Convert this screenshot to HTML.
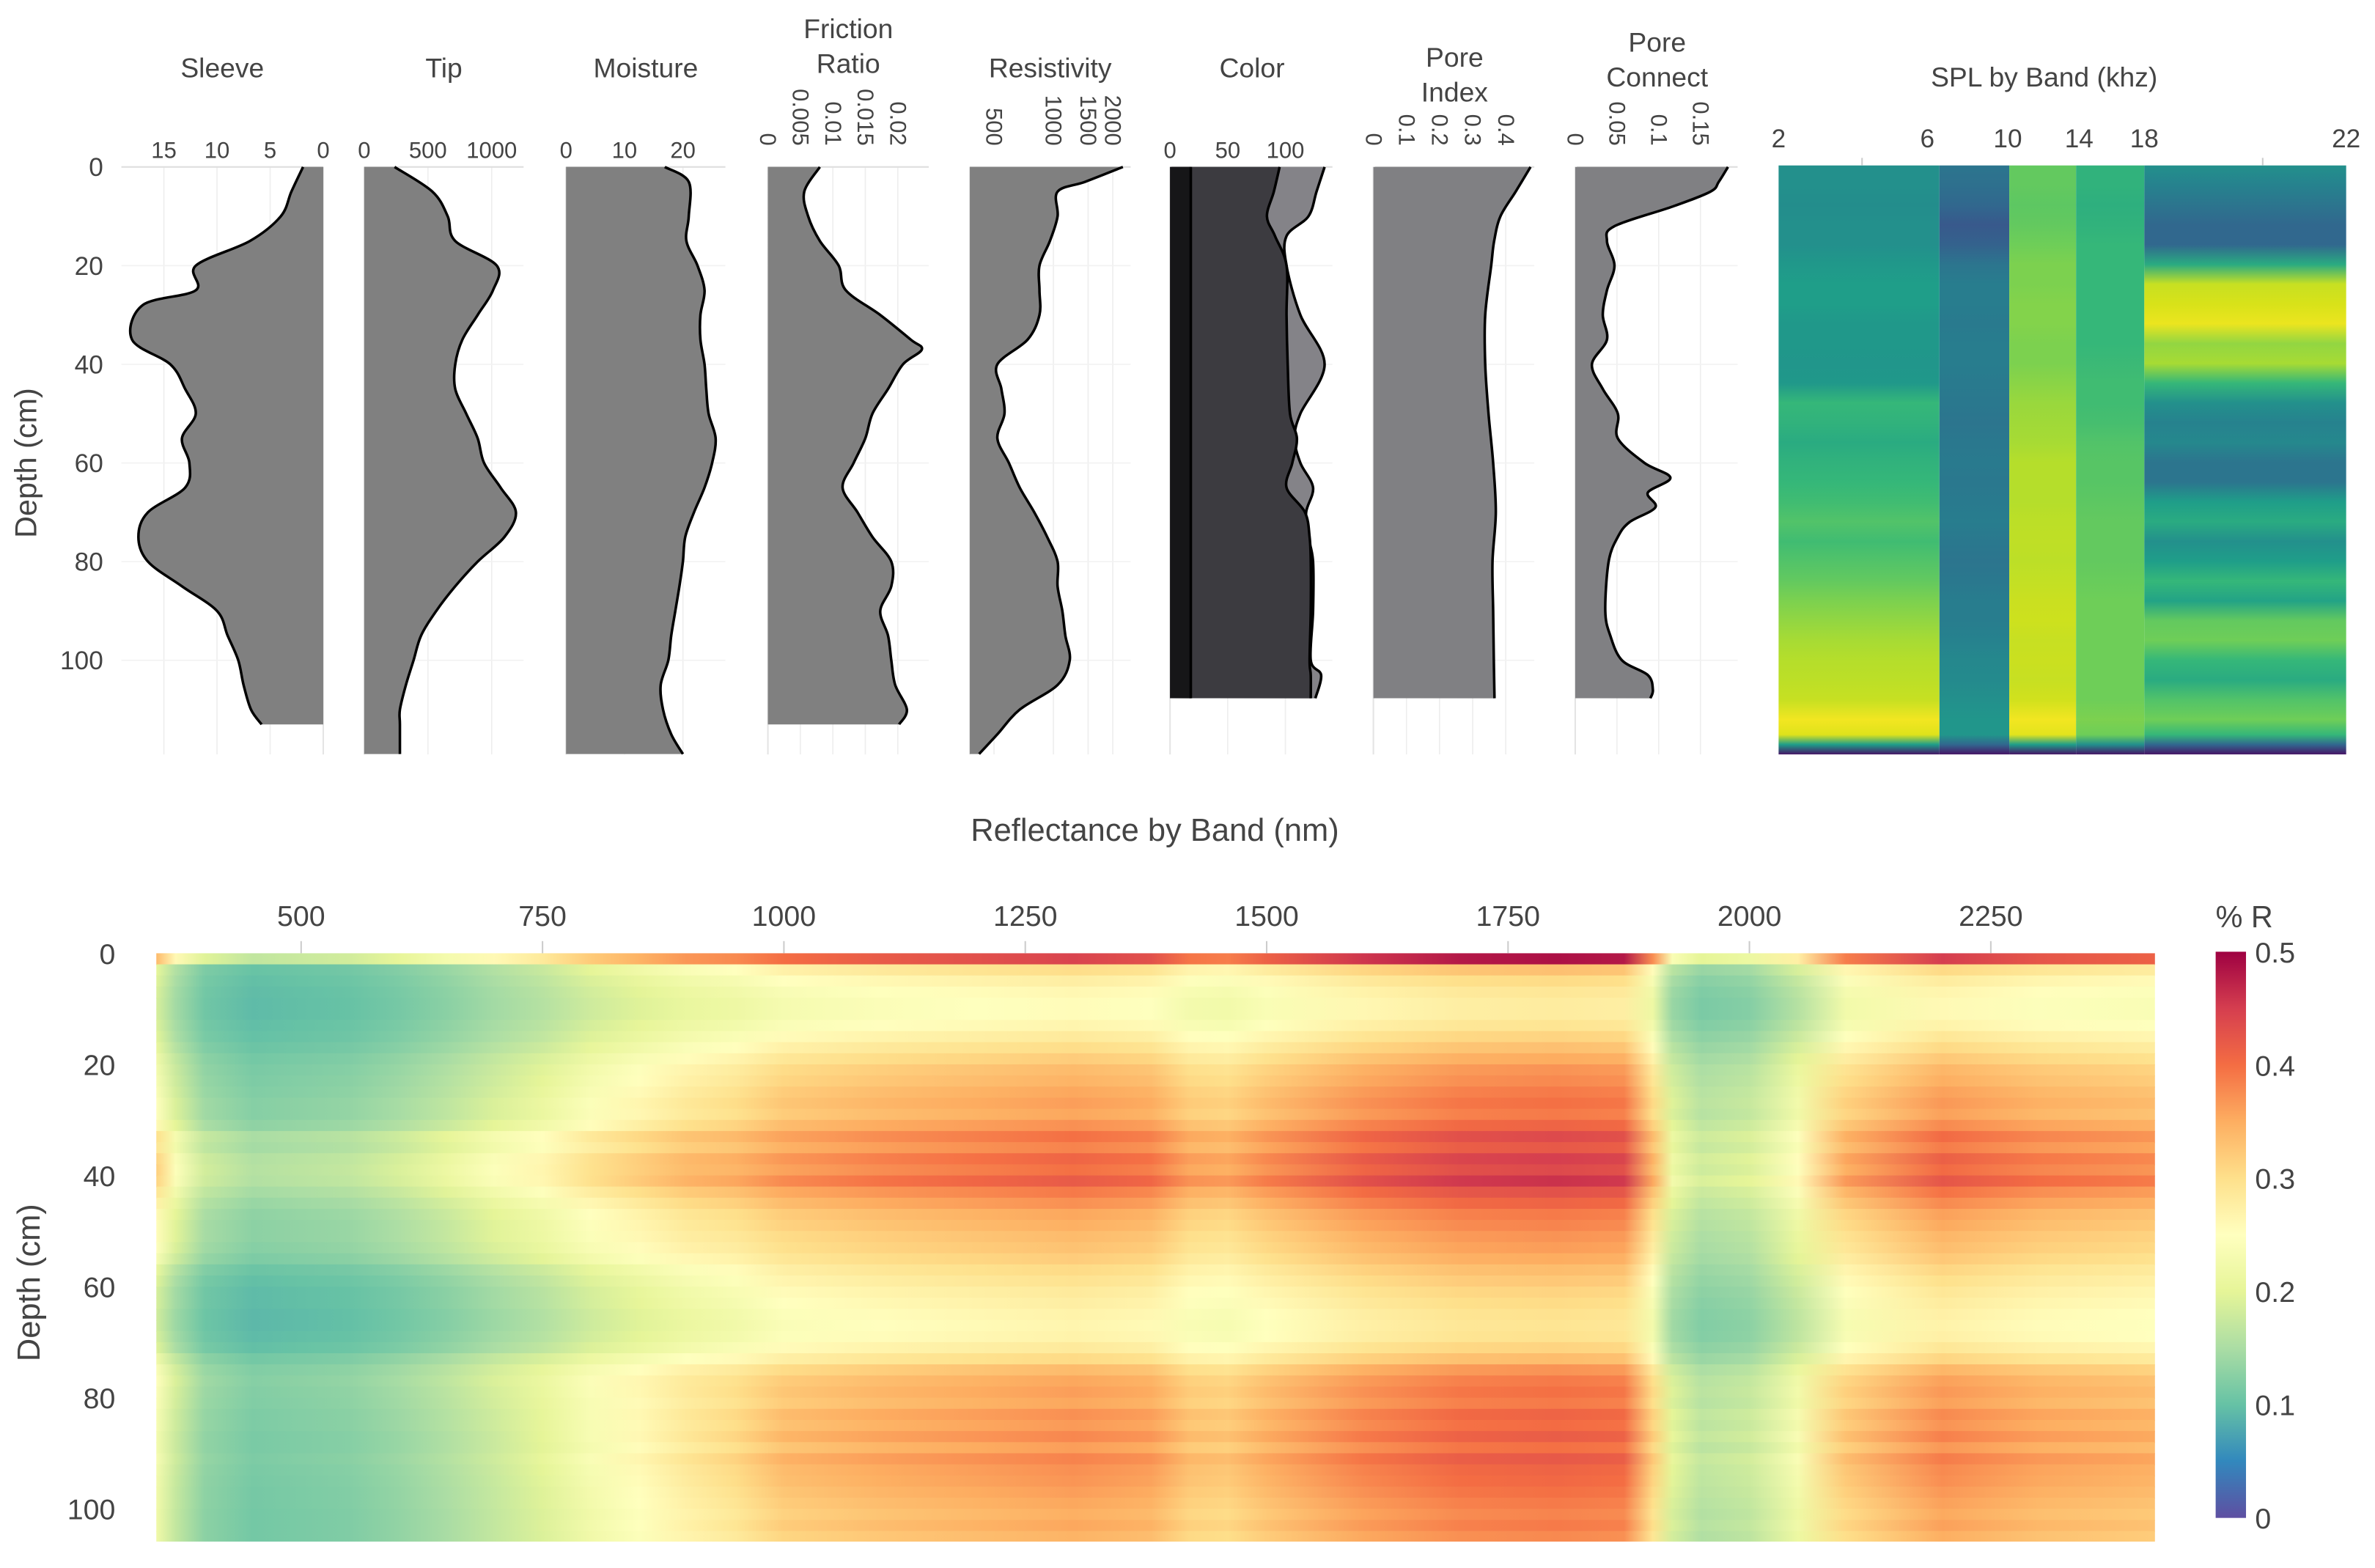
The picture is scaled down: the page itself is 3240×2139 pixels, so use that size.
<!DOCTYPE html>
<html><head><meta charset="utf-8">
<style>
html,body{margin:0;padding:0;background:#fff;}
svg{display:block;}
text{font-family:"Liberation Sans","DejaVu Sans",sans-serif;fill:#444;}
</style></head>
<body>
<svg id="chart" xmlns="http://www.w3.org/2000/svg" width="3240" height="2139" viewBox="0 0 1565 1033" preserveAspectRatio="none">
<defs id="defs"></defs>
<g id="topPanels"></g>
<g id="spl"></g>
<g id="refl"></g>
</svg>
<script>
// ---------- data: core profiles ----------
const sleeveDepths=[0,5,10,15,20,25,28,35,40,45,50,55,60,65,70,75,80,85,90,95,100,105,110,113];
const sleeveValues=[1.9,3,4,6.9,12,12,17,18,14.4,13,12,13.3,12.6,13,16.5,17.4,16.5,13.3,10,9,8,7.5,6.8,5.8];
const tipDepths=[0,5,10,15,20,25,30,35,40,45,50,55,60,65,70,75,80,85,90,95,100,105,110,113,119];
const tipValues=[238,535,655,714,1040,1010,890,770,714,714,800,890,940,1070,1190,1100,890,714,565,446,387,327,280,280,280];
const moistureDepths=[0,3,10,15,20,25,30,35,40,45,50,55,60,65,70,75,80,85,90,95,100,105,110,115,119];
const moistureValues=[16.9,21,21,20.6,22.5,23.7,23,23,23.7,24,24.4,25.6,25,23.7,21.9,20.4,20,19.4,18.7,18,17.5,16.2,16.6,18,20];
const frictionDepths=[0,5,10,15,20,25,30,35,37,40,45,50,55,60,65,70,75,80,85,90,95,100,105,110,113];
const frictionValues=[0.008,0.0056,0.0062,0.008,0.0109,0.012,0.0173,0.022,0.0237,0.0208,0.0185,0.0161,0.015,0.0132,0.0115,0.0138,0.0161,0.019,0.019,0.0173,0.0185,0.019,0.0196,0.0214,0.0202];
const resistDepths=[0,3,5,10,15,20,25,30,35,40,45,50,55,60,65,70,75,80,85,90,95,100,105,110,115,119];
const resistValues=[2250,1450,1050,1050,960,850,850,850,740,520,545,565,520,595,675,800,930,1050,1050,1110,1150,1210,1050,675,520,420];
const colorDepths=[0,5,10,14,20,30,40,50,55,60,65,70,75,80,90,100,103,107.7];
const colorOuter=[134,127,120,101,101,113,134,113,108,113,124,118,120,124,124,122,131,126];
const colorInner=[95,90,84,91,101,101,102,104,110,106,101,117,121,122,122,121,122,122];
const colorBlack=[18,18];
const colorBlackDepths=[0,107.7];
const poreIdxDepths=[0,5,10,15,20,30,40,50,60,70,80,90,100,107.7];
const poreIdxValues=[0.475,0.43,0.384,0.365,0.356,0.338,0.338,0.348,0.362,0.37,0.36,0.362,0.364,0.366];
const poreConDepths=[0,3,5,8,12,15,20,25,30,35,40,45,50,55,60,63,66,69,72,75,80,90,95,100,103,106,107.7];
const poreConValues=[0.183,0.172,0.162,0.117,0.047,0.038,0.047,0.038,0.033,0.038,0.02,0.033,0.051,0.051,0.083,0.114,0.087,0.096,0.065,0.051,0.04,0.036,0.042,0.056,0.087,0.093,0.09];
const depthTicks=[0,20,40,60,80,100];
// ---------- data: SPL ----------
const splBands=["2","6","10","14","18","22"];
const splDepths=[0,4,8,12,16,20,24,28,32,36,40,44,48,52,56,60,64,68,72,76,80,84,88,92,96,100,104,108,112,115,117,119];
const spl1=[0.45,0.45,0.44,0.45,0.45,0.48,0.5,0.5,0.48,0.48,0.47,0.48,0.6,0.58,0.55,0.58,0.6,0.62,0.65,0.62,0.65,0.68,0.72,0.75,0.78,0.8,0.82,0.85,0.97,0.92,0.5,0.05];
const spl2=[0.35,0.33,0.3,0.25,0.28,0.35,0.38,0.38,0.37,0.38,0.38,0.37,0.36,0.35,0.36,0.37,0.36,0.37,0.38,0.36,0.35,0.36,0.38,0.38,0.4,0.42,0.43,0.45,0.47,0.47,0.3,0.05];
const spl3=[0.68,0.68,0.67,0.68,0.7,0.72,0.72,0.73,0.73,0.72,0.72,0.74,0.76,0.77,0.78,0.8,0.8,0.8,0.82,0.83,0.82,0.84,0.86,0.87,0.85,0.86,0.85,0.88,0.97,0.93,0.5,0.05];
const spl4=[0.58,0.58,0.57,0.58,0.6,0.6,0.6,0.6,0.6,0.6,0.61,0.62,0.62,0.63,0.65,0.66,0.66,0.67,0.68,0.68,0.68,0.69,0.7,0.7,0.7,0.7,0.7,0.7,0.72,0.7,0.45,0.05];
const spl5=[0.45,0.4,0.35,0.3,0.3,0.55,0.85,0.9,0.95,0.75,0.78,0.6,0.45,0.4,0.42,0.35,0.35,0.5,0.55,0.45,0.5,0.6,0.52,0.68,0.7,0.6,0.55,0.65,0.7,0.6,0.3,0.05];
// ---------- data: reflectance ----------
const wavelengths=[350,370,400,450,500,550,600,650,700,750,800,850,900,950,1000,1100,1200,1300,1380,1420,1460,1500,1600,1700,1800,1870,1900,1920,1950,2000,2050,2100,2200,2300,2420];
const baseSpectrum=[0.26,0.2,0.15,0.13,0.135,0.14,0.155,0.175,0.2,0.22,0.25,0.27,0.29,0.3,0.32,0.335,0.345,0.355,0.345,0.315,0.31,0.33,0.365,0.385,0.39,0.385,0.3,0.19,0.16,0.17,0.22,0.31,0.36,0.34,0.33];
const visWeight=[1,1,1,1,1,1,1,1,1,0.85,0.7,0.55,0.4,0.2,0,0,0,0,0,0,0,0,0,0,0,0,0,0,0,0,0,0,0,0,0];
const reflDepths=[0,2,4,6,8,10,12,14,16,18,20,22,24,26,28,30,32,34,36,38,40,42,44,46,48,50,52,54,56,58,60,62,64,66,68,70,72,74,76,78,80,82,84,86,88,90,92,94,96,98,100,102,104];
const nirFactor=[1.25,0.85,0.78,0.74,0.72,0.72,0.75,0.8,0.85,0.9,0.95,0.97,1.0,1.02,1.0,1.05,1.12,1.08,1.15,1.12,1.18,1.1,1.05,1.0,0.98,0.95,0.93,0.9,0.86,0.83,0.8,0.78,0.76,0.75,0.76,0.8,0.86,0.95,1.0,1.02,1.0,1.05,1.03,1.07,1.02,1.08,1.05,1.04,1.02,1.0,0.98,1.0,0.97];
const visFactor=[1.3,0.78,0.75,0.73,0.72,0.72,0.74,0.76,0.8,0.85,0.88,0.9,0.92,0.95,0.95,1.0,1.15,1.12,1.2,1.22,1.2,1.12,1.05,1.0,0.98,0.98,0.95,0.9,0.8,0.75,0.72,0.72,0.7,0.7,0.72,0.75,0.85,0.92,0.95,0.93,0.92,0.9,0.9,0.88,0.88,0.9,0.88,0.87,0.86,0.86,0.85,0.85,0.85];
const reflXTicks=[500,750,1000,1250,1500,1750,2000,2250];
const cbarTicks=[0,0.1,0.2,0.3,0.4,0.5];

const NS="http://www.w3.org/2000/svg";
function mk(tag,attrs,parent){const e=document.createElementNS(NS,tag);for(const k in attrs)e.setAttribute(k,attrs[k]);if(parent)parent.appendChild(e);return e;}
const defs=document.getElementById('defs');
const topG=document.getElementById('topPanels');

const yTop=d=>110+d*3.25;

depthTicks.forEach(t=>{
  const tx=mk('text',{x:68,y:yTop(t)+6,'text-anchor':'end','font-size':17},topG);
  tx.textContent=t;
  
  
});
{const t=mk('text',{x:24,y:305,'text-anchor':'middle','font-size':20,transform:'rotate(-90 24 305)'},topG);t.textContent='Depth (cm)';

}

function smoothPath(pts){
  let d='M'+pts[0][0].toFixed(2)+','+pts[0][1].toFixed(2);
  for(let i=0;i<pts.length-1;i++){
    const p0=pts[i-1]||pts[i],p1=pts[i],p2=pts[i+1],p3=pts[i+2]||p2;
    const c1=[p1[0]+(p2[0]-p0[0])/6,p1[1]+(p2[1]-p0[1])/6];
    const c2=[p2[0]-(p3[0]-p1[0])/6,p2[1]-(p3[1]-p1[1])/6];
    d+=' C'+c1[0].toFixed(2)+','+c1[1].toFixed(2)+' '+c2[0].toFixed(2)+','+c2[1].toFixed(2)+' '+p2[0].toFixed(2)+','+p2[1].toFixed(2);
  }
  return d;
}

function panel(cfg){
  const g=mk('g',{},topG);
  
  
  cfg.ticks.forEach(t=>{mk('line',{x1:cfg.sx(t),x2:cfg.sx(t),y1:110,y2:497,stroke:'#eeeeee','stroke-width':0.8},g);});
  depthTicks.forEach(t=>{mk('line',{x1:cfg.x0,x2:cfg.x1,y1:yTop(t),y2:yTop(t),stroke:'#f2f2f2','stroke-width':0.8},g);});
  mk('line',{x1:cfg.x0,x2:cfg.x1,y1:110,y2:110,stroke:'#dddddd','stroke-width':1},g);
  mk('line',{x1:cfg.sx(cfg.base),x2:cfg.sx(cfg.base),y1:110,y2:497,stroke:'#e4e4e4','stroke-width':1},g);
  cfg.ticks.forEach((t,i)=>{
    const lab=cfg.labels[i];
    let tx;
    if(cfg.rot){tx=mk('text',{x:0,y:0,'font-size':15,'text-anchor':'end',transform:'translate('+(cfg.sx(t)-5)+',96) rotate(90)'},g);}
    else tx=mk('text',{x:cfg.sx(t),y:104,'font-size':15,'text-anchor':'middle'},g);
    tx.textContent=lab;
    
    
  });
  cfg.title.forEach((line,i)=>{
    const tx=mk('text',{x:(cfg.x0+cfg.x1)/2,y:cfg.titleY+i*23,'font-size':18,'text-anchor':'middle'},g);
    tx.textContent=line;
    
    
  });
  cfg.series.forEach(s=>{
    const pts=s.d.map((d,i)=>[cfg.sx(s.v[i]),yTop(d)]);
    const bx=cfg.sx(cfg.base);
    const line=smoothPath(pts);
    const last=pts[pts.length-1];
    const rest=line.replace(/^M[^ ]+/,'');
    const area=mk('path',{d:'M'+bx+','+pts[0][1]+' L'+pts[0][0]+','+pts[0][1]+' '+rest+' L'+bx+','+last[1]+' Z',fill:s.fill,stroke:'none'},g);
    
    
    const l=mk('path',{d:line,fill:'none',stroke:'#000','stroke-width':1.7,'stroke-linejoin':'round'},g);
    
    
  });
}
const lin=(x0,v0,k)=>v=>x0+(v-v0)*k;
panel({name:'sleeve',x0:80,x1:213,sx:lin(213,0,-7),base:0,ticks:[15,10,5,0],labels:['15','10','5','0'],title:['Sleeve'],titleY:51,
  series:[{name:'sleeve',d:sleeveDepths,v:sleeveValues,fill:'#808080'}]});
panel({name:'tip',x0:240,x1:345,sx:lin(240,0,0.084),base:0,ticks:[0,500,1000],labels:['0','500','1000'],title:['Tip'],titleY:51,
  series:[{name:'tip',d:tipDepths,v:tipValues,fill:'#808080'}]});
panel({name:'moisture',x0:373,x1:478,sx:lin(373,0,3.85),base:0,ticks:[0,10,20],labels:['0','10','20'],title:['Moisture'],titleY:51,
  series:[{name:'moisture',d:moistureDepths,v:moistureValues,fill:'#808080'}]});
panel({name:'friction-ratio',x0:506,x1:612,sx:lin(506,0,4280),base:0,ticks:[0,0.005,0.01,0.015,0.02],labels:['0','0.005','0.01','0.015','0.02'],rot:true,title:['Friction','Ratio'],titleY:25,
  series:[{name:'friction',d:frictionDepths,v:frictionValues,fill:'#808080'}]});
panel({name:'resistivity',x0:639,x1:745,sx:v=>655+(Math.log10(v)-Math.log10(500))*130,base:377,ticks:[500,1000,1500,2000],labels:['500','1000','1500','2000'],rot:true,title:['Resistivity'],titleY:51,
  series:[{name:'resistivity',d:resistDepths,v:resistValues,fill:'#808080'}]});
panel({name:'color',x0:772,x1:878,sx:lin(771,0,0.76),base:0,ticks:[0,50,100],labels:['0','50','100'],title:['Color'],titleY:51,
  series:[{name:'color-outer',d:colorDepths,v:colorOuter,fill:'#848388'},{name:'color-inner',d:colorDepths,v:colorInner,fill:'#3c3b40'},{name:'color-black',d:colorBlackDepths,v:colorBlack,fill:'#161618'}]});
panel({name:'pore-index',x0:906,x1:1011,sx:lin(905,0,218),base:0,ticks:[0,0.1,0.2,0.3,0.4],labels:['0','0.1','0.2','0.3','0.4'],rot:true,title:['Pore','Index'],titleY:44,
  series:[{name:'pore-index',d:poreIdxDepths,v:poreIdxValues,fill:'#808083'}]});
panel({name:'pore-connect',x0:1039,x1:1145,sx:lin(1038,0,550),base:0,ticks:[0,0.05,0.1,0.15],labels:['0','0.05','0.1','0.15'],rot:true,title:['Pore','Connect'],titleY:34,
  series:[{name:'pore-connect',d:poreConDepths,v:poreConValues,fill:'#808083'}]});

// ---------- colour maps ----------
const viridis=['#440154','#482878','#3e4989','#31688e','#26828e','#1f9e89','#35b779','#6ece58','#b5de2b','#d8e219','#fde725'];
const spectral=['#5e4fa2','#3288bd','#66c2a5','#abdda4','#e6f598','#ffffbf','#fee08b','#fdae61','#f46d43','#d53e4f','#9e0142'];
function hex(c){return [parseInt(c.slice(1,3),16),parseInt(c.slice(3,5),16),parseInt(c.slice(5,7),16)];}
function cmap(stops,t){t=Math.max(0,Math.min(1,t));const n=stops.length-1;const i=Math.min(n-1,Math.floor(t*n));const f=t*n-i;
  const a=hex(stops[i]),b=hex(stops[i+1]);return 'rgb('+a.map((v,k)=>Math.round(v+(b[k]-v)*f)).join(',')+')';}

// ---------- SPL heatmap ----------
const splG=document.getElementById('spl');
const splEdgesPx=[1172,1278,1324,1368,1413,1546];
const splTickPx=[1172,1270,1323,1370,1413,1546];
const splCols=[spl1,spl2,spl3,spl4,spl5];
const ySpl=d=>109+d*(388/119);
splCols.forEach((col,ci)=>{
  const gid='splg'+ci;
  const lg=mk('linearGradient',{id:gid,x1:0,y1:0,x2:0,y2:1},defs);
  col.forEach((v,i)=>{mk('stop',{offset:(splDepths[i]/119).toFixed(4),'stop-color':cmap(viridis,v)},lg);});
  const r=mk('rect',{x:splEdgesPx[ci],y:ySpl(0),width:splEdgesPx[ci+1]-splEdgesPx[ci],height:ySpl(119)-ySpl(0),fill:'url(#'+gid+')'},splG);
  
  
});
splBands.forEach((b,i)=>{
  const t=mk('text',{x:splTickPx[i],y:97,'font-size':17,'text-anchor':'middle'},splG);t.textContent=b;
  
  
});
[1227,1491].forEach(x=>mk('line',{x1:x,x2:x,y1:104,y2:109,stroke:'#ccc'},splG));
{const t=mk('text',{x:1347,y:57,'font-size':18,'text-anchor':'middle'},splG);t.textContent='SPL by Band (khz)';

}

// ---------- Reflectance heatmap ----------
const rG=document.getElementById('refl');
const xR=w=>103+(w-350)*(1317/2070);
const yR=d=>628+d*3.66;
const wMin=wavelengths[0],wMax=wavelengths[wavelengths.length-1];
reflDepths.forEach((d,ri)=>{
  const gid='rg'+ri;
  const lg=mk('linearGradient',{id:gid,x1:0,y1:0,x2:1,y2:0},defs);
  wavelengths.forEach((w,wi)=>{
    const f=visWeight[wi]*visFactor[ri]+(1-visWeight[wi])*nirFactor[ri];
    const z=baseSpectrum[wi]*f;
    mk('stop',{offset:((w-wMin)/(wMax-wMin)).toFixed(4),'stop-color':cmap(spectral,z/0.5)},lg);
  });
  const y0=yR(d), y1=Math.min(yR(d+2),1015);
  const r=mk('rect',{x:xR(wMin),y:y0,width:xR(wMax)-xR(wMin),height:(y1-y0)+0.6,fill:'url(#'+gid+')'},rG);
  
  
});
reflXTicks.forEach(w=>{
  mk('line',{x1:xR(w),x2:xR(w),y1:620,y2:628,stroke:'#ccc'},rG);
  const t=mk('text',{x:xR(w),y:610,'font-size':19,'text-anchor':'middle'},rG);t.textContent=w;
  
  
});
depthTicks.forEach(d=>{
  const t=mk('text',{x:76,y:yR(d)+7,'font-size':19,'text-anchor':'end'},rG);t.textContent=d;
  
  
});
{const t=mk('text',{x:761,y:554,'font-size':21,'text-anchor':'middle'},rG);t.textContent='Reflectance by Band (nm)';

}
{const t=mk('text',{x:26,y:845,'font-size':21,'text-anchor':'middle',transform:'rotate(-90 26 845)'},rG);t.textContent='Depth (cm)';

}
{const lg=mk('linearGradient',{id:'cbg',x1:0,y1:1,x2:0,y2:0},defs);
 spectral.forEach((c,i)=>mk('stop',{offset:i/(spectral.length-1),'stop-color':c},lg));
 const r=mk('rect',{x:1460,y:627,width:20,height:373,fill:'url(#cbg)'},rG);
 
 
 const yC=v=>1000-v/0.5*373;
 cbarTicks.forEach(v=>{
   const t=mk('text',{x:1486,y:yC(v)+7,'font-size':19},rG);t.textContent=v;
   
   
 });
 const t=mk('text',{x:1460,y:611,'font-size':20},rG);t.textContent='% R';
 
 
}
</script>
</body></html>
